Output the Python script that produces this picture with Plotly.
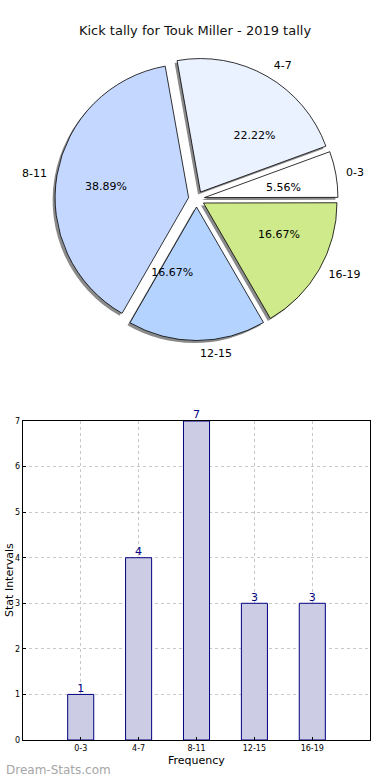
import plotly.graph_objects as go

categories = ["0-3", "4-7", "8-11", "12-15", "16-19"]
counts = [1, 4, 7, 3, 3]
pie_colors = ["#ffffff", "#eaf1ff", "#c4d8ff", "#b4d4ff", "#cfea8a"]
y_ticks = [0, 1, 2, 3, 4, 5, 6, 7]

W, H = 390, 780
FONT = "DejaVu Sans"

def px_x(v):
    return v / W

def px_y(v):
    return 1 - v / H

def box(cx, cy, h):
    return dict(x=[px_x(cx - h), px_x(cx + h)], y=[px_y(cy + h), px_y(cy - h)])

pull = [0.06] * len(categories)
ROT = 69.9
ROT_PCT = 70.1

cx, cy, half = 194.5, 199, 143

fig = go.Figure()

# shadow
fig.add_trace(go.Pie(
    labels=categories, values=counts, sort=False, direction="counterclockwise",
    rotation=ROT, pull=pull, domain=box(cx - 2.5, cy + 2.5, half),
    marker=dict(colors=["#8a8a8a"] * 5, line=dict(width=0)),
    textinfo="none", hoverinfo="skip", showlegend=False,
))

# main pie
fig.add_trace(go.Pie(
    labels=categories, values=counts, sort=False, direction="counterclockwise",
    rotation=ROT, pull=pull, domain=box(cx, cy, half),
    marker=dict(colors=pie_colors, line=dict(color="#000000", width=0.8)),
    textinfo="none", showlegend=False,
))

# percentage labels (transparent inner pie, text placed just outside its edge)
fig.add_trace(go.Pie(
    labels=categories, values=counts, sort=False, direction="counterclockwise",
    rotation=ROT_PCT, pull=[0.12] * 5, domain=box(cx, cy, 68),
    marker=dict(colors=["rgba(0,0,0,0)"] * 5, line=dict(width=0)),
    texttemplate="%{percent:.2%}", textposition="outside",
    outsidetextfont=dict(family=FONT, size=11, color="#000000"),
    hoverinfo="skip", showlegend=False,
))

# category labels (transparent outer pie)
fig.add_trace(go.Pie(
    labels=categories, values=counts, sort=False, direction="counterclockwise",
    rotation=ROT, pull=pull, domain=box(cx, cy, 150),
    marker=dict(colors=["rgba(0,0,0,0)"] * 5, line=dict(width=0)),
    textinfo="label", textposition="outside",
    outsidetextfont=dict(family=FONT, size=11, color="#000000"),
    hoverinfo="skip", showlegend=False,
))

# bar chart
fig.add_trace(go.Bar(
    x=categories, y=counts, width=0.45,
    marker=dict(color="#ccccE4", line=dict(color="#000080", width=1)),
    showlegend=False, xaxis="x", yaxis="y",
))
fig.add_trace(go.Scatter(
    x=categories, y=counts, mode="text", text=[str(c) for c in counts],
    textposition="top center", cliponaxis=False,
    textfont=dict(family=FONT, size=11, color="#000080"),
    showlegend=False, hoverinfo="skip", xaxis="x", yaxis="y",
))

grid = dict(showgrid=True, gridcolor="#c8c8c8", griddash="dot", gridwidth=1)
fig.update_layout(
    width=W, height=H,
    margin=dict(l=0, r=0, t=0, b=0),
    paper_bgcolor="white", plot_bgcolor="white",
    font=dict(family=FONT, color="#000000"),
    title=dict(text="Kick tally for Touk Miller - 2019 tally", x=0.5, xanchor="center",
               y=px_y(30), yanchor="middle", font=dict(family=FONT, size=13, color="#111111")),
    xaxis=dict(domain=[px_x(19), px_x(370)], range=[-1, 5], type="category",
               tickfont=dict(size=8), showline=True, linecolor="black", mirror=True,
               ticks="inside", ticklen=3, tickcolor="black", anchor="y",
               automargin=False, **grid),
    yaxis=dict(domain=[px_y(740), px_y(421)], range=[0, 7], tickvals=y_ticks,
               tickfont=dict(size=8), showline=True, linecolor="black", mirror=True,
               ticks="inside", ticklen=3, tickcolor="black", zeroline=False, anchor="x",
               automargin=False, **grid),
    annotations=[
        dict(text="Stat Intervals", x=px_x(5), y=px_y(580), xref="paper", yref="paper",
             textangle=-90, showarrow=False, font=dict(size=11, family=FONT),
             xanchor="center", yanchor="middle"),
        dict(text="Frequency", x=px_x(194), y=px_y(760), xref="paper", yref="paper",
             showarrow=False, font=dict(size=11, family=FONT),
             xanchor="center", yanchor="middle"),
        dict(text="Dream-Stats.com", x=0, y=px_y(770), xref="paper", yref="paper",
             showarrow=False, xanchor="left", yanchor="middle",
             font=dict(size=12, family=FONT, color="#a6a6a6")),
    ],
)

fig.write_html("out.html", config={"displayModeBar": False},
               post_script="document.body.style.margin='0';")
